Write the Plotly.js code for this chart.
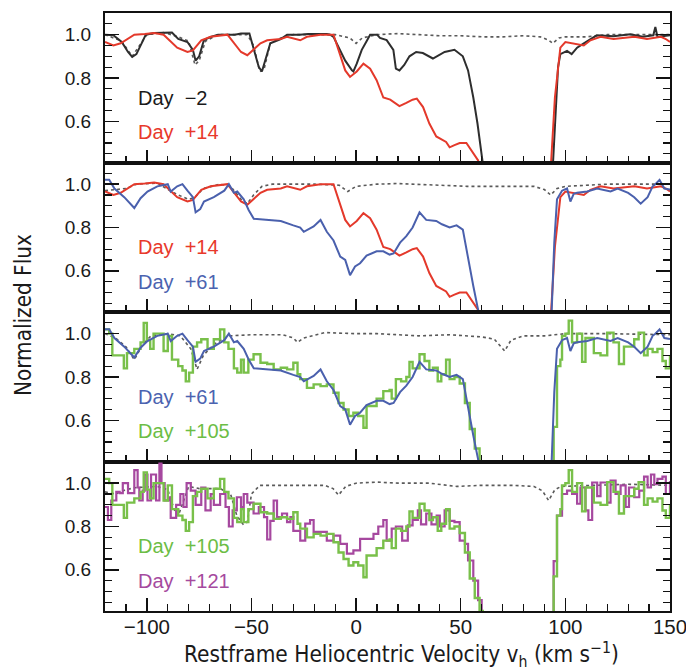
<!DOCTYPE html>
<html><head><meta charset="utf-8">
<script src="https://cdn.plot.ly/plotly-3.0.1.min.js"></script>
<style>html,body{margin:0;padding:0;background:#fff}#chart{width:686px;height:672px}</style>
</head><body><div id="chart"></div>
<script>
// Day -2
const vBlack = [-120,-116,-112,-109,-107,-105,-102.5,-100.5,-96.5,-92,-88,-85,-80.6,-78,-76.7,-75,-72.7,-69.5,-66,-58,-55,-51,-49.7,-46.5,-45,-42.5,-41,-36,-33,-27,-23,-14,-12.4,-10.8,-8.4,-5.2,-2,-1.3,0.3,2.7,5,6.7,10,11.4,14.6,17.8,19,20.7,23,25.5,28.7,31.9,36.7,42.3,47,51,53.5,56,58,60,62,93.5,95,96.5,97.6,100.8,103,105.6,108.8,112,115,123,131,137,142,143,144,150];
const fBlack = [1.0,0.997,0.966,0.92,0.897,0.91,0.96,1.0,1.008,1.01,1.01,0.98,0.966,0.93,0.88,0.9,0.975,0.99,1.0,1.0,1.005,1.005,0.96,0.85,0.83,0.915,0.96,0.98,1.0,1.0,1.003,1.003,1.0,0.99,0.94,0.88,0.835,0.83,0.866,0.93,0.97,1.0,1.0,0.985,0.975,0.93,0.843,0.835,0.86,0.9,0.92,0.915,0.89,0.92,0.93,0.9,0.835,0.71,0.59,0.47,0.3,0.3,0.6,0.85,0.91,0.925,0.91,0.94,0.96,0.98,0.997,0.993,1.002,0.99,0.997,1.035,0.99,0.997];
// Day +14
const vRed = [-120,-116,-112.5,-109,-106,-101,-96.5,-92,-88.6,-85.5,-80.6,-78,-74,-69.5,-61.5,-58.4,-55,-52,-48.9,-45.7,-42.5,-36,-33,-26.7,-23.5,-17,-10.8,-8.4,-5.2,-2.9,0.3,3.5,6.7,9.8,13,16.3,20.7,24,27,29,32,35,38.3,43,44.7,47,49.5,52.7,56,58.3,60,92.5,95,97.6,100,103.2,108.8,112,116.8,123,133,139,145.7,148,150];
const fRed = [0.966,0.95,0.96,0.98,1.0,1.003,1.008,1.0,0.966,0.94,0.92,0.927,0.974,0.99,1.0,0.96,0.92,0.905,0.93,0.96,0.974,0.98,0.99,0.974,0.99,1.0,1.0,0.93,0.835,0.805,0.83,0.866,0.843,0.79,0.71,0.70,0.67,0.685,0.70,0.705,0.666,0.59,0.53,0.505,0.48,0.49,0.5,0.5,0.45,0.42,0.3,0.3,0.71,0.94,0.966,0.96,0.95,0.974,0.99,0.98,0.99,0.98,0.99,0.98,0.966];
// Day +61
const vBlue = [-120,-118,-115.5,-110.8,-106,-103,-99.7,-95,-90,-88.6,-85.5,-83,-80.6,-78,-76.7,-74.5,-72.7,-68,-63,-60.8,-58.4,-56.8,-53.7,-51.3,-48.9,-42.5,-36,-30,-26.7,-25,-20.3,-17,-14,-10.8,-7.6,-5.2,-2.9,-0.5,1.9,5,9.8,13,16,17.9,21,24,27,30.3,33.5,38.3,41,44.7,48,51,53.5,56,58.3,60,93,94.7,96,98.4,100.8,102.4,104,105.6,110.4,115.2,121.6,125,130,132.9,136,139.3,141.7,143,145,147.3,150];
const fBlue = [1.02,1.02,0.98,0.94,0.89,0.935,0.966,0.99,1.0,0.966,0.99,1.0,0.97,0.94,0.87,0.885,0.92,0.94,0.97,1.0,0.96,0.966,0.93,0.88,0.84,0.835,0.83,0.81,0.80,0.78,0.805,0.835,0.78,0.74,0.666,0.65,0.58,0.62,0.635,0.67,0.69,0.69,0.675,0.68,0.73,0.76,0.80,0.87,0.835,0.83,0.815,0.80,0.81,0.79,0.65,0.53,0.42,0.3,0.3,0.73,0.93,0.97,0.98,0.92,0.955,0.96,0.966,0.98,0.966,0.98,0.96,0.94,0.91,0.94,0.99,1.0,1.02,0.98,0.975];
// Day +105
const vGreen = [-120,-118,-116.5,-114,-111,-109.5,-106,-103,-101.5,-100,-98.4,-96.8,-93.5,-92,-90,-88,-85,-83,-81.4,-79.8,-78,-76,-74,-71,-68,-65,-63,-61,-58.4,-56.8,-55,-53.7,-51.5,-49,-45.7,-42.5,-39.4,-36,-33,-30,-28,-26.7,-23.5,-20.3,-17,-14,-10.8,-8.4,-6,-3.6,-1.3,1,3.5,5,6.7,9.8,13,16,17,19,21.5,24,25.5,27,30.3,32.7,35,36.7,39,40.7,43,44.7,47,49.5,52,54.3,56.7,59,60.5,93,94.4,96,97.6,98.4,100,101.6,103.2,105.6,108,109.6,113.6,116.8,120,123,125.6,128,132.9,135,137.6,139.3,141.7,144,146.4,148,150];
const fGreen = [1.02,1.0,0.9,0.9,0.84,0.91,0.93,0.96,1.05,0.97,0.93,1.0,1.0,0.92,0.99,0.88,0.85,0.83,0.78,0.82,0.94,0.96,0.974,0.93,0.974,1.02,0.96,0.93,0.84,0.82,0.88,0.82,0.88,0.905,0.866,0.86,0.835,0.843,0.835,0.866,0.813,0.79,0.75,0.766,0.758,0.766,0.727,0.68,0.65,0.62,0.635,0.62,0.566,0.666,0.666,0.70,0.735,0.74,0.70,0.79,0.78,0.80,0.87,0.84,0.905,0.874,0.83,0.843,0.78,0.813,0.88,0.79,0.80,0.77,0.68,0.56,0.47,0.41,0.3,0.3,0.57,0.85,0.88,0.99,1.0,1.06,0.96,1.0,0.87,0.98,0.91,0.90,1.005,0.96,0.86,0.94,0.974,1.005,0.90,0.93,0.915,0.93,0.874,0.84,0.90];
// Day +121
const vMag = [-120,-118.6,-117,-114.6,-113,-111.5,-109,-106,-104.4,-103.6,-102,-101,-99.7,-98,-95.6,-94,-93,-91.5,-89,-88.6,-86,-84,-82.5,-81,-79,-76.7,-74,-72,-69.5,-68,-65,-62.4,-60.8,-59,-57,-55,-53.7,-52,-49,-46.5,-44,-42.5,-41,-39.4,-37.8,-35.4,-33,-31.4,-30,-26.7,-24.3,-22,-20.3,-17,-14,-10.8,-7.6,-4.4,-1.3,1.9,5,8.3,10.6,13,14.6,17,19,22,24.7,27,29.5,31,33.5,36,38.5,40,42.3,44.7,47,49.5,52,53.5,56,58.3,60,93,94.4,96,98.4,100.8,103.2,105.6,107.2,109.6,111,112.8,115.2,116.8,120,121.6,124,126.4,128.8,130.4,132.9,135.3,137.6,139.3,140.9,142.5,144,146.4,148,150];
const fMag = [0.89,0.83,0.92,0.96,0.954,1.0,0.954,1.06,0.98,0.92,0.966,1.04,0.92,1.04,0.92,1.09,1.0,0.92,0.935,0.84,0.9,0.95,0.89,1.0,0.966,0.90,0.98,0.874,0.95,0.90,0.95,0.89,0.80,0.874,0.935,0.89,0.95,0.91,0.86,0.89,0.843,0.74,0.826,0.92,0.843,0.86,0.82,0.843,0.78,0.735,0.813,0.83,0.775,0.775,0.735,0.758,0.72,0.675,0.69,0.743,0.743,0.766,0.80,0.83,0.735,0.79,0.80,0.735,0.805,0.83,0.874,0.81,0.86,0.81,0.85,0.80,0.874,0.826,0.82,0.735,0.72,0.643,0.55,0.46,0.3,0.3,0.64,0.85,0.95,0.966,0.95,0.905,0.98,0.874,0.83,1.003,0.94,1.003,0.91,1.012,0.95,0.99,0.89,0.98,0.935,0.966,1.03,0.98,1.04,0.995,1.02,1.03,0.95,1.01];
// dotted comparison profiles, one per panel
const vDot1 = [-120,-112,-107,-102,-100,-92,-85,-80,-77,-75,-72,-66,-52,-49,-46,-44,-41,-36,-30,-10,-3,0,3,10,20,30,40,50,60,70,80,88,92,94,97,100,110,120,130,140,150];
const fDot1 = [1.0,0.97,0.9,0.97,1.0,1.01,0.99,0.97,0.86,0.88,0.97,1.0,1.0,0.95,0.83,0.84,0.96,0.985,1.0,1.0,0.985,0.96,0.985,1.0,1.005,1.0,0.995,0.995,0.99,0.99,0.995,0.99,0.975,0.96,0.985,0.99,0.99,1.0,1.0,1.0,1.0];
const vDot2 = [-120,-110,-105,-95,-89,-85,-80,-77,-73,-65,-60,-55,-52,-49,-45,-40,-20,-8,-4,0,10,20,40,53,70,85,90,93,96,100,120,150];
const fDot2 = [0.97,0.98,1.0,1.005,0.97,0.95,0.93,0.94,0.98,1.0,0.99,0.93,0.91,0.95,0.99,1.0,1.0,0.995,0.966,0.99,1.0,1.003,0.995,0.99,0.99,0.99,0.975,0.95,0.98,0.99,1.0,1.0];
const vDot3 = [-120,-115,-110,-106,-102,-98,-90,-84,-79,-76,-73,-68,-63,-60,-50,-35,-30,-28,-25,-15,0,10,20,30,45,60,66,71,74,80,90,100,120,150];
const fDot3 = [1.0,0.98,0.94,0.88,0.95,0.99,1.0,0.99,0.93,0.835,0.9,0.95,0.98,0.99,0.995,0.995,0.98,0.96,0.98,1.005,1.0,1.0,0.995,0.99,0.995,0.985,0.975,0.92,0.97,0.99,0.99,1.0,1.0,0.995];
const vDot4 = [-120,-115,-110,-105,-95,-90,-87,-85,-82,-80,-75,-65,-60,-57,-54,-52,-50,-46,-30,-15,-11,-8.4,-5,0,10,20,35,48,60,75,85,89,92,95,98,110,130,150];
const fDot4 = [0.96,0.95,0.97,0.98,0.985,0.97,0.88,0.85,0.93,0.985,0.975,0.975,0.95,0.85,0.81,0.82,0.95,0.99,0.99,0.99,0.975,0.945,0.985,1.0,1.005,1.0,1.0,0.985,0.99,0.99,0.985,0.965,0.92,0.97,0.985,0.99,0.995,0.99];

const labelsP1 = ['Day\u00a0 \u22122', 'Day\u00a0 +14'];
const labelsP2 = ['Day\u00a0 +14', 'Day\u00a0 +61'];
const labelsP3 = ['Day\u00a0 +61', 'Day\u00a0 +105'];
const labelsP4 = ['Day\u00a0 +105', 'Day\u00a0 +121'];

const C = {black:'#2e2e2e', red:'#e4392b', blue:'#4a60ad', green:'#79c04a', mag:'#a6489f', dot:'#5a5a5a'};
const TC = {black:'#1a1a1a', red:'#e8392b', blue:'#4b63b0', green:'#6cbd45', mag:'#a54a9e'};
const FONT = 'Liberation Sans, Arial, Helvetica, sans-serif';

// pick a condensed face for the axis titles if one is installed
const ctx = document.createElement('canvas').getContext('2d');
function widthOf(str, fam, size) { ctx.font = size + 'px ' + fam; return ctx.measureText(str).width; }
function hasFont(name) {
  const s = 'Restframe Heliocentric Velocity';
  return Math.abs(widthOf(s, '"' + name + '", monospace', 40) - widthOf(s, 'monospace', 40)) > 0.5;
}
const narrowName = ['Liberation Sans Narrow', 'Arial Narrow', 'DejaVu Sans Condensed'].find(hasFont);
const TFONT = narrowName ? '"' + narrowName + '", ' + FONT : FONT;
function titleSize(targetPx) {
  const w = widthOf('Restframe Heliocentric Velocity v (km s)', TFONT, 100) + 0.7 * widthOf('h\u22121', TFONT, 100);
  return 100 * targetPx / w;
}
const xTitleSize = Math.min(30, titleSize(435));
const yTitleSize = Math.min(30, 100 * 162 / widthOf('Normalized Flux', TFONT, 100));

const traces = [];
function spec(v, f, color, p, shape, width) {
  const ax = p === 1 ? '' : String(p);
  traces.push({x: v, y: f, type: 'scatter', mode: 'lines', xaxis: 'x' + ax, yaxis: 'y' + ax,
    line: {color: color, width: width || 2, shape: shape || 'linear'}, hoverinfo: 'skip', showlegend: false});
}
function dots(v, f, p) {
  const ax = p === 1 ? '' : String(p);
  traces.push({x: v, y: f, type: 'scatter', mode: 'lines', xaxis: 'x' + ax, yaxis: 'y' + ax,
    line: {color: C.dot, width: 1.6, dash: '3px,3px'}, hoverinfo: 'skip', showlegend: false});
}
dots(vDot1, fDot1, 1); spec(vBlack, fBlack, C.black, 1); spec(vRed, fRed, C.red, 1);
dots(vDot2, fDot2, 2); spec(vRed, fRed, C.red, 2); spec(vBlue, fBlue, C.blue, 2);
dots(vDot3, fDot3, 3); spec(vGreen, fGreen, C.green, 3, 'hv', 2.4); spec(vBlue, fBlue, C.blue, 3);
dots(vDot4, fDot4, 4); spec(vMag, fMag, C.mag, 4, 'hv', 2.2); spec(vGreen, fGreen, C.green, 4, 'hv', 2.4);

const layout = {
  width: 686, height: 672,
  margin: {l: 105, r: 16, t: 13, b: 61},
  paper_bgcolor: '#fff', plot_bgcolor: '#fff',
  font: {family: FONT, color: '#1a1a1a', size: 18},
  showlegend: false,
  annotations: []
};
const labelSets = [labelsP1, labelsP2, labelsP3, labelsP4];
const labelColors = [[TC.black, TC.red], [TC.red, TC.blue], [TC.blue, TC.green], [TC.green, TC.mag]];
for (let p = 1; p <= 4; p++) {
  const ax = p === 1 ? '' : String(p);
  layout['xaxis' + ax] = {
    range: [-120, 150], anchor: 'y' + ax, domain: [0, 1],
    ticks: 'inside', ticklen: 13, tickwidth: 1.5, tickcolor: '#111',
    tick0: 0, dtick: 50,
    minor: {dtick: 10, ticks: 'inside', ticklen: 7, tickwidth: 1.3, tickcolor: '#111', showgrid: false},
    showline: true, linewidth: 2, linecolor: '#111', mirror: true,
    showgrid: false, zeroline: false, showticklabels: p === 4,
    ticklabelstandoff: -4, ticklabeloverflow: 'allow',
    tickfont: {size: 20.5, family: FONT, color: '#1a1a1a'}
  };
  if (p > 1) layout['xaxis' + ax].matches = 'x';
  layout['yaxis' + ax] = {
    range: [0.41, 1.1], anchor: 'x' + ax,
    domain: [1 - p / 4, 1 - (p - 1) / 4],
    ticks: 'inside', ticklen: 14, tickwidth: 1.5, tickcolor: '#111',
    tick0: 0, dtick: 0.2, tickformat: '.1f',
    minor: {dtick: 0.05, ticks: 'inside', ticklen: 7, tickwidth: 1.3, tickcolor: '#111', showgrid: false},
    showline: true, linewidth: 2, linecolor: '#111', mirror: 'ticks',
    showgrid: false, zeroline: false,
    ticklabelstandoff: 8,
    tickfont: {size: 19, family: FONT, color: '#1a1a1a'}
  };
  const labs = labelSets[p - 1];
  const cols = labelColors[p - 1];
  [0.71, 0.55].forEach((yv, k) => {
    layout.annotations.push({xref: 'x' + ax, yref: 'y' + ax, x: -105, y: yv,
      xanchor: 'left', yanchor: 'middle', showarrow: false, text: labs[k],
      font: {family: FONT, size: 20, color: cols[k]}});
  });
}
layout.annotations.push({xref: 'paper', yref: 'paper', x: -0.145, y: 0.495, textangle: -90,
  xanchor: 'center', yanchor: 'middle', showarrow: false, text: 'Normalized Flux',
  font: {family: TFONT, size: yTitleSize, color: '#1a1a1a'}});
layout.annotations.push({xref: 'paper', yref: 'paper', x: 0.525, y: -0.0725,
  xanchor: 'center', yanchor: 'middle', showarrow: false,
  text: 'Restframe Heliocentric Velocity v<sub>h</sub> (km s<sup>\u22121</sup>)',
  font: {family: TFONT, size: xTitleSize, color: '#1a1a1a'}});

Plotly.newPlot('chart', traces, layout, {staticPlot: true, displayModeBar: false});
</script></body></html>
